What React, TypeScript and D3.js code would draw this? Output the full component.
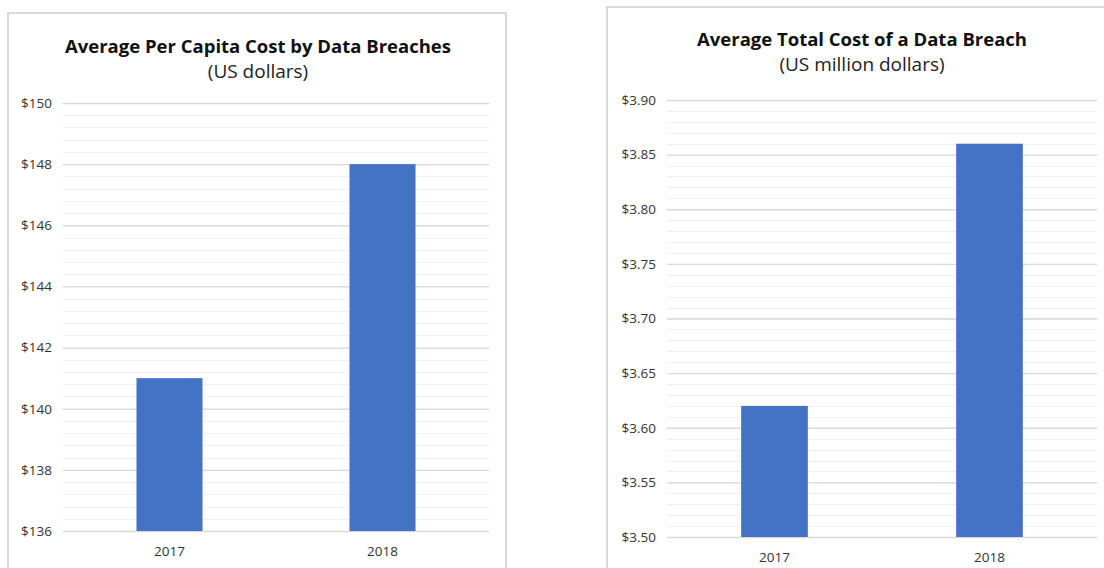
import { useEffect, useRef } from 'react';
import * as d3 from 'd3';

// chart data
const years = ['2017', '2018'];
const perCapitaCost = [141, 148];
const perCapitaTicks = [136, 138, 140, 142, 144, 146, 148, 150];
const totalCost = [3.62, 3.86];
const totalTicks = [3.5, 3.55, 3.6, 3.65, 3.7, 3.75, 3.8, 3.85, 3.9];

const FONT = '"Open Sans", "Noto Sans", sans-serif';
const BAR = '#4472c4';

function drawPanel(svg, opts) {
    const g = svg.append('g');

    // frame
    g.append('rect')
        .attr('x', opts.frame[0]).attr('y', opts.frame[1])
        .attr('width', opts.frame[2]).attr('height', opts.frame[3])
        .attr('fill', '#fff').attr('stroke', '#d9d9d9').attr('stroke-width', 2);

    g.append('text')
        .attr('x', opts.titleX).attr('y', opts.titleY)
        .attr('text-anchor', 'middle')
        .style('font', `bold 18.5px ${FONT}`).attr('fill', '#111')
        .text(opts.title);
    g.append('text')
        .attr('x', opts.titleX).attr('y', opts.subY)
        .attr('text-anchor', 'middle')
        .style('font', `19px ${FONT}`).attr('fill', '#222')
        .text(opts.subtitle);

    const y = d3.scaleLinear().domain(opts.domain).range([opts.bottom, opts.top]);
    const x = d3.scaleBand().domain(years).range([opts.left, opts.right])
        .paddingInner(0.69).paddingOuter(0.345);

    // minor grid
    const minor = d3.range(opts.domain[0], opts.domain[1] + opts.minorStep / 2, opts.minorStep);
    g.append('g').selectAll('line').data(minor).join('line')
        .attr('x1', opts.left).attr('x2', opts.right)
        .attr('y1', d => Math.round(y(d)) + 0.5).attr('y2', d => Math.round(y(d)) + 0.5)
        .attr('stroke', '#f0f0f0').attr('stroke-width', 1.2);

    // major grid + labels
    const axis = d3.axisLeft(y).tickValues(opts.ticks)
        .tickSize(-(opts.right - opts.left)).tickPadding(11)
        .tickFormat(opts.fmt);
    const ag = g.append('g').attr('transform', `translate(${opts.left},0)`).call(axis);
    ag.select('.domain').remove();
    ag.selectAll('.tick line').attr('stroke', '#d9d9d9').attr('stroke-width', 1.3);
    ag.selectAll('.tick text').style('font', `13.5px ${FONT}`).attr('fill', '#333');

    g.append('g').selectAll('rect').data(opts.values).join('rect')
        .attr('x', (d, i) => x(years[i]))
        .attr('width', x.bandwidth())
        .attr('y', d => y(d))
        .attr('height', d => y(opts.domain[0]) - y(d))
        .attr('fill', BAR);

    g.append('g').selectAll('text').data(years).join('text')
        .attr('x', d => x(d) + x.bandwidth() / 2)
        .attr('y', opts.bottom + 25)
        .attr('text-anchor', 'middle')
        .style('font', `13.5px ${FONT}`).attr('fill', '#333')
        .text(d => d);
}

export default function App() {
    const ref = useRef(null);

    useEffect(() => {
        const svg = d3.select(ref.current);
        svg.selectAll('*').remove();

        svg.append('rect').attr('width', 1104).attr('height', 568).attr('fill', '#fff');

        drawPanel(svg, {
            frame: [8, 13, 498, 570],
            title: 'Average Per Capita Cost by Data Breaches',
            subtitle: '(US dollars)',
            titleX: 258, titleY: 53, subY: 78,
            domain: [136, 150], ticks: perCapitaTicks, minorStep: 0.4,
            values: perCapitaCost,
            left: 63, right: 489, top: 103, bottom: 531,
            fmt: d => `$${d}`,
        });

        drawPanel(svg, {
            frame: [607, 7, 520, 580],
            title: 'Average Total Cost of a Data Breach',
            subtitle: '(US million dollars)',
            titleX: 862, titleY: 46, subY: 71,
            domain: [3.5, 3.9], ticks: totalTicks, minorStep: 0.01,
            values: totalCost,
            left: 667, right: 1097, top: 100, bottom: 537,
            fmt: d => `$${d3.format('.2f')(d)}`,
        });
    }, []);

    return (
        <svg ref={ref} width={1104} height={568}
            style={{ position: 'absolute', left: 0, top: 0, display: 'block' }} />
    );
}
